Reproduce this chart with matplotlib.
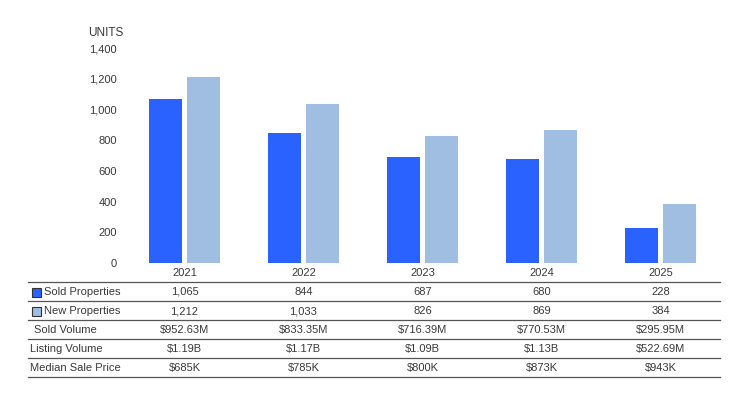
import matplotlib
matplotlib.use("Agg")
import matplotlib.pyplot as plt
from matplotlib.transforms import blended_transform_factory
from matplotlib.patches import Rectangle
from matplotlib.lines import Line2D

years = ["2021", "2022", "2023", "2024", "2025"]
sold = [1065, 844, 687, 680, 228]
new = [1212, 1033, 826, 869, 384]
sold_volume = ["$952.63M", "$833.35M", "$716.39M", "$770.53M", "$295.95M"]
listing_volume = ["$1.19B", "$1.17B", "$1.09B", "$1.13B", "$522.69M"]
median_price = ["$685K", "$785K", "$800K", "$873K", "$943K"]

SOLD_C = "#2962FF"
NEW_C = "#A0BDE2"
TXT = "#3a3a3a"

plt.rcParams["font.family"] = ["Liberation Sans", "DejaVu Sans"]

W, H = 750, 399
fig = plt.figure(figsize=(W / 100, H / 100), dpi=100)


def fy(py):
    return (H - py) / H


def fx(px):
    return px / W


ax = fig.add_axes([fx(125), fy(263), fx(720) - fx(125), fy(48) - fy(263)])
x = list(range(len(years)))
bw = 0.277
ax.bar([i - bw / 2 - 0.02 for i in x], sold, width=bw, color=SOLD_C)
ax.bar([i + bw / 2 + 0.02 for i in x], new, width=bw, color=NEW_C)
ax.set_xlim(-0.5, len(years) - 0.5)
ax.set_ylim(0, 1400)
ax.set_yticks(range(0, 1401, 200))
ax.set_yticklabels([f"{v:,}" for v in range(0, 1401, 200)])
ax.tick_params(axis="y", length=0, pad=6, labelsize=8, labelcolor=TXT)
ax.set_xticks([])
for s in ax.spines.values():
    s.set_visible(False)
fig.text(fx(88), fy(33), "UNITS", fontsize=8.5, color=TXT, va="center", ha="left")

tr = blended_transform_factory(ax.transData, fig.transFigure)

# year labels
for i, yr in enumerate(years):
    fig.text(i, fy(273), yr, transform=tr, ha="center", va="center", fontsize=8, color=TXT)

# table lines
for py in [282, 301, 320, 339, 358, 377]:
    fig.add_artist(Line2D([fx(28), fx(720)], [fy(py), fy(py)], color="#555555", lw=0.9))

rows = [
    ("Sold Properties", [f"{v:,}" for v in sold], SOLD_C, 44),
    ("New Properties", [f"{v:,}" for v in new], NEW_C, 44),
    ("Sold Volume", sold_volume, None, 34),
    ("Listing Volume", listing_volume, None, 30),
    ("Median Sale Price", median_price, None, 30),
]
row_y = [292, 311, 330, 349, 368]
for (label, vals, col, lx), py in zip(rows, row_y):
    if col is not None:
        fig.add_artist(Rectangle((fx(32), fy(py + 4.5)), fx(9), fy(py - 4.5) - fy(py + 4.5),
                                 facecolor=col, edgecolor="#333333", lw=0.8))
    fig.text(fx(lx), fy(py), label, ha="left", va="center", fontsize=8, color=TXT)
    for i, v in enumerate(vals):
        fig.text(i, fy(py), v, transform=tr, ha="center", va="center", fontsize=8, color=TXT)

fig.savefig("out.png", dpi=100)
